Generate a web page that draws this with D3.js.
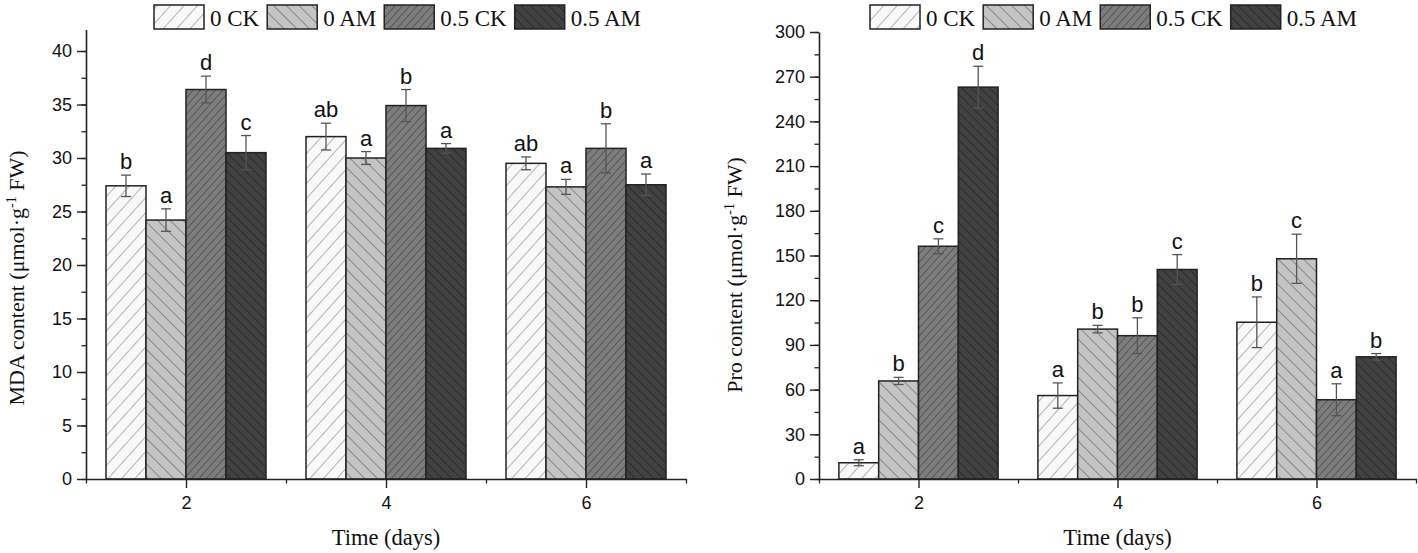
<!DOCTYPE html>
<html><head><meta charset="utf-8">
<script src="https://cdn.jsdelivr.net/npm/d3@7"></script>
<style>
body{margin:0;background:#fff;}
svg{display:block;}
</style></head>
<body>
<svg id="chart" width="1418" height="553"></svg>
<script>
// ---------- data ----------
const days = [2, 4, 6];
const treatments = ["0 CK", "0 AM", "0.5 CK", "0.5 AM"];

const mdaMean = [[27.4, 24.2, 36.4, 30.5], [32.0, 30.0, 34.9, 30.9], [29.5, 27.3, 30.9, 27.5]];
const mdaErr  = [[1.0, 1.05, 1.25, 1.6], [1.25, 0.6, 1.5, 0.45], [0.6, 0.7, 2.3, 1.0]];
const mdaLetters = [["b", "a", "d", "c"], ["ab", "a", "b", "a"], ["ab", "a", "b", "a"]];
const mdaTicks = [0, 5, 10, 15, 20, 25, 30, 35, 40];

const proMean = [[10.9, 65.8, 156.2, 263.0], [56.0, 100.6, 96.2, 140.6], [105.2, 147.8, 53.2, 82.0]];
const proErr  = [[2.0, 2.4, 5.0, 14.0], [8.5, 2.5, 12.0, 10.0], [17.0, 16.5, 10.7, 2.2]];
const proLetters = [["a", "b", "c", "d"], ["a", "b", "b", "c"], ["b", "c", "a", "b"]];
const proTicks = [0, 30, 60, 90, 120, 150, 180, 210, 240, 270, 300];

// ---------- styles ----------
const fills = ["#f8f8f8", "#c4c4c4", "#7d7d7d", "#414141"];
const hatchColor = ["#7a7a7a", "#555555", "#383838", "#1a1a1a"];
const hatchAngle = [42, -45, 42, -45];
const hatchGap = [10, 9, 5.5, 6.5];
const serif = "'Liberation Serif','Times New Roman',serif";
const sans = "'Liberation Sans',Arial,sans-serif";

const svg = d3.select("#chart");
const defs = svg.append("defs");
treatments.forEach((t, i) => {
  const p = defs.append("pattern")
    .attr("id", "hatch" + i)
    .attr("patternUnits", "userSpaceOnUse")
    .attr("width", hatchGap[i]).attr("height", hatchGap[i])
    .attr("patternTransform", `rotate(${hatchAngle[i]})`);
  p.append("rect").attr("width", hatchGap[i]).attr("height", hatchGap[i]).attr("fill", fills[i]);
  p.append("line").attr("x1", 0).attr("y1", 0).attr("x2", 0).attr("y2", hatchGap[i])
    .attr("stroke", hatchColor[i]).attr("stroke-width", 1.1);
});

function panel(cfg) {
  const x = d3.scaleLinear().domain([1, 7]).range([cfg.x0, cfg.x1]);
  const y = d3.scaleLinear().domain([0, cfg.ymax]).range([cfg.y0, cfg.y1]);
  const g = svg.append("g");

  // bars
  days.forEach((d, gi) => {
    treatments.forEach((t, i) => {
      const xl = x(d - 0.8 + i * 0.4), xr = x(d - 0.8 + (i + 1) * 0.4);
      const v = cfg.mean[gi][i], e = cfg.err[gi][i];
      g.append("rect")
        .attr("x", xl).attr("y", y(v)).attr("width", xr - xl).attr("height", y(0) - y(v))
        .attr("fill", `url(#hatch${i})`).attr("stroke", "#222").attr("stroke-width", 1.5);
      const cx = (xl + xr) / 2;
      const eg = g.append("g").attr("stroke", "#555").attr("stroke-width", 1.3);
      eg.append("line").attr("x1", cx).attr("x2", cx).attr("y1", y(v + e)).attr("y2", y(v - e));
      eg.append("line").attr("x1", cx - 5).attr("x2", cx + 5).attr("y1", y(v + e)).attr("y2", y(v + e));
      eg.append("line").attr("x1", cx - 5).attr("x2", cx + 5).attr("y1", y(v - e)).attr("y2", y(v - e));
      g.append("text").attr("x", cx).attr("y", y(v + e) - 6)
        .attr("text-anchor", "middle").attr("font-family", sans).attr("font-size", 22)
        .attr("fill", "#111").text(cfg.letters[gi][i]);
    });
  });

  // y axis
  const minorY = d3.range(0, cfg.ymax + 0.001, cfg.ticks[1] / 2);
  g.append("g").attr("transform", `translate(${cfg.x0},0)`)
    .call(d3.axisLeft(y).tickValues(minorY).tickSize(4.5).tickFormat(""))
    .call(a => a.select(".domain").remove())
    .selectAll("line").attr("stroke", "#222").attr("stroke-width", 1.3);
  const ya = g.append("g").attr("transform", `translate(${cfg.x0},0)`)
    .call(d3.axisLeft(y).tickValues(cfg.ticks).tickSize(9).tickPadding(5).tickSizeOuter(0));
  ya.select(".domain").attr("stroke", "#222").attr("stroke-width", 1.6);
  ya.selectAll(".tick line").attr("stroke", "#222").attr("stroke-width", 1.4);
  ya.selectAll("text").attr("font-family", sans).attr("font-size", 18).attr("fill", "#111");

  // x axis
  g.append("g").attr("transform", `translate(0,${cfg.y0})`)
    .call(d3.axisBottom(x).tickValues([1, 3, 5, 7]).tickSize(4.5).tickFormat(""))
    .call(a => a.select(".domain").remove())
    .selectAll("line").attr("stroke", "#222").attr("stroke-width", 1.3);
  const xa = g.append("g").attr("transform", `translate(0,${cfg.y0})`)
    .call(d3.axisBottom(x).tickValues(days).tickSize(9).tickPadding(8).tickSizeOuter(0).tickFormat(d3.format("d")));
  xa.select(".domain").attr("stroke", "#222").attr("stroke-width", 1.6);
  xa.selectAll(".tick line").attr("stroke", "#222").attr("stroke-width", 1.4);
  xa.selectAll("text").attr("font-family", sans).attr("font-size", 18).attr("fill", "#111");

  // titles
  g.append("text").attr("x", (cfg.x0 + cfg.x1) / 2).attr("y", 545)
    .attr("text-anchor", "middle").attr("font-family", serif).attr("font-size", 22.5)
    .attr("fill", "#111").text("Time (days)");
  const yt = g.append("text").attr("transform", `translate(${cfg.ytx},${cfg.yty}) rotate(-90)`)
    .attr("text-anchor", "middle").attr("font-family", serif).attr("font-size", 22)
    .attr("fill", "#111");
  yt.append("tspan").text(cfg.ylabel + " (μmol·g");
  yt.append("tspan").attr("dy", -8).attr("font-size", 14).text("-1");
  yt.append("tspan").attr("dy", 8).text(" FW)");

  // legend
  let lx = cfg.legendX;
  treatments.forEach((t, i) => {
    g.append("rect").attr("x", lx).attr("y", 5).attr("width", 50).attr("height", 24)
      .attr("fill", `url(#hatch${i})`).attr("stroke", "#222").attr("stroke-width", 1.5);
    const tx = g.append("text").attr("x", lx + 56).attr("y", 26)
      .attr("font-family", serif).attr("font-size", 23).attr("fill", "#111").text(t);
    lx += 56 + tx.node().getComputedTextLength() + 8;
  });
}

panel({x0: 86, x1: 686, y0: 479, y1: 479 - 42 * 10.7, ymax: 42,
  mean: mdaMean, err: mdaErr, letters: mdaLetters, ticks: mdaTicks,
  ylabel: "MDA content", ytx: 24, yty: 278, legendX: 154});
panel({x0: 819, x1: 1416, y0: 479, y1: 32, ymax: 300,
  mean: proMean, err: proErr, letters: proLetters, ticks: proTicks,
  ylabel: "Pro content", ytx: 742, yty: 275, legendX: 870});
</script>
</body></html>
